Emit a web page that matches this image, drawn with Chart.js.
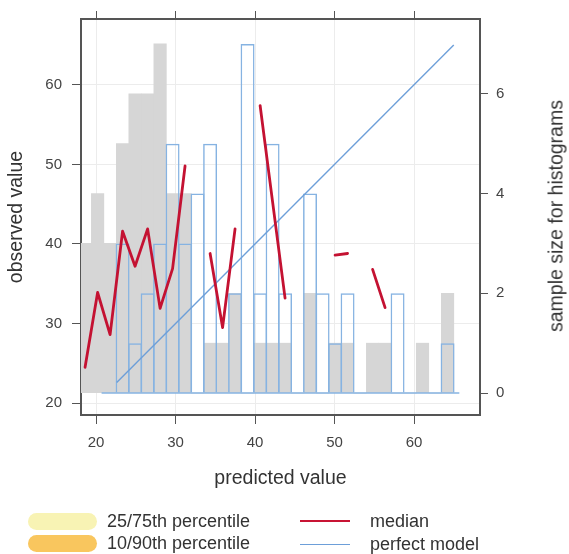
<!DOCTYPE html>
<html>
<head>
<meta charset="utf-8">
<script src="https://cdn.jsdelivr.net/npm/chart.js@4.4.1/dist/chart.umd.min.js"></script>
<style>
  html, body { margin: 0; padding: 0; background: #fff; }
  #wrap { position: relative; width: 569px; height: 554px; font-family: "Liberation Sans", Arial, sans-serif; color: #333; overflow: hidden; }
  #chart { position: absolute; left: 0; top: 0; }
  .rtitle { position: absolute; left: 556px; top: 216px; transform: translate(-50%, -50%) rotate(-90deg); white-space: nowrap; font-size: 19.5px; }
  .key { position: absolute; display: flex; align-items: center; height: 20px; font-size: 18px; line-height: 18px; white-space: nowrap; }
  .pill { width: 69px; height: 17px; border-radius: 9px; margin-right: 10px; }
  .stroke { width: 50px; margin-right: 20px; }
</style>
</head>
<body>
<div id="wrap">
  <canvas id="chart" width="569" height="554"></canvas>
  <div class="rtitle">sample size for histograms</div>
  <div class="key" style="left:28px; top:511px"><span class="pill" style="background:#f8f3b4"></span>25/75th percentile</div>
  <div class="key" style="left:28px; top:533px"><span class="pill" style="background:#f9c65e"></span>10/90th percentile</div>
  <div class="key" style="left:300px; top:511px"><span class="stroke" style="border-top:2.5px solid #c81434"></span>median</div>
  <div class="key" style="left:300px; top:534px"><span class="stroke" style="border-top:1.5px solid #6d9fd9"></span>perfect model</div>
</div>
<script>
// histogram bin centres (predicted value)
const binCenters = [18.62, 20.20, 21.77, 23.34, 24.91, 26.49, 28.06, 29.63, 31.20, 32.77,
                    34.35, 35.92, 37.49, 39.06, 40.64, 42.21, 43.78, 45.35, 46.92, 48.50,
                    50.07, 51.64, 53.21, 54.79, 56.36, 57.93, 59.50, 61.07, 62.65, 64.22];
// sample sizes: predicted (grey) and observed (blue outline)
const predCounts = [3, 4, 3, 5, 6, 6, 7, 4, 4, 0, 1, 1, 2, 0, 1, 1, 1, 0, 2, 0, 1, 1, 0, 1, 1, 0, 0, 1, 0, 2];
const obsCounts  = [0, 0, 0, 3, 1, 2, 3, 5, 3, 4, 5, 0, 2, 7, 2, 5, 2, 0, 4, 2, 1, 2, 0, 0, 0, 2, 0, 0, 0, 1];
// median observed value per bin (null = no line)
const medians = [24.5, 33.9, 28.6, 41.6, 37.2, 41.9, 31.9, 36.9, 49.8, null,
                 38.8, 29.5, 41.9, null, 57.4, 45.3, 33.2, null, null, null,
                 38.6, 38.8, null, 36.8, 32.0, null, null, null, null, null];
const perfectX = [22.6, 65.0];
const obsBaseX = [20.7, 65.7];

const xTicks = [20, 30, 40, 50, 60];
const yTicks = [20, 30, 40, 50, 60];
const countTicks = [0, 2, 4, 6];

const FONT = '"Liberation Sans", Arial, sans-serif';
const FRAME = '#555555';
const GRID = '#ececec';

const setTicks = vals => scale => { scale.ticks = vals.map(v => ({ value: v })); };

new Chart(document.getElementById('chart'), {
  type: 'line',
  data: {
    datasets: [
      {
        type: 'bar',
        label: 'predicted',
        data: binCenters.map((x, i) => ({ x, y: predCounts[i] })),
        yAxisID: 'y2',
        backgroundColor: '#d6d6d6',
        borderWidth: 0,
        barPercentage: 1,
        categoryPercentage: 1,
        grouped: false,
        order: 5
      },
      {
        type: 'bar',
        label: 'observed',
        data: binCenters.map((x, i) => ({ x, y: obsCounts[i] })),
        yAxisID: 'y2',
        backgroundColor: 'rgba(0,0,0,0)',
        borderColor: '#86b3e2',
        borderWidth: 1.5,
        borderSkipped: 'start',
        barPercentage: 1.12,
        categoryPercentage: 1,
        grouped: false,
        order: 4
      },
      {
        label: 'observed base',
        data: obsBaseX.map(x => ({ x, y: 0 })),
        yAxisID: 'y2',
        borderColor: '#86b3e2',
        borderWidth: 1.5,
        pointRadius: 0,
        order: 3
      },
      {
        label: 'perfect model',
        data: perfectX.map(x => ({ x, y: x })),
        yAxisID: 'y',
        borderColor: '#6d9fd9',
        borderWidth: 1.4,
        pointRadius: 0,
        order: 2
      },
      {
        label: 'median',
        data: binCenters.map((x, i) => ({ x, y: medians[i] })),
        yAxisID: 'y',
        borderColor: '#c41232',
        borderWidth: 2.8,
        pointRadius: 0,
        spanGaps: false,
        borderJoinStyle: 'round',
        borderCapStyle: 'round',
        order: 1
      }
    ]
  },
  options: {
    responsive: false,
    animation: false,
    layout: { padding: 0 },
    plugins: { legend: { display: false }, tooltip: { enabled: false } },
    scales: {
      x: {
        type: 'linear', position: 'bottom', min: 18.11, max: 68.30, offset: false,
        afterBuildTicks: setTicks(xTicks),
        afterFit: s => { s.height = 139; },
        grid: { color: GRID, tickColor: FRAME, tickLength: 9, offset: false },
        border: { color: FRAME, width: 2 },
        ticks: { color: '#444', padding: 10, font: { family: FONT, size: 15 } },
        title: { display: true, text: 'predicted value', color: '#333', padding: { bottom: 64 }, font: { family: FONT, size: 19.5 } }
      },
      x2: {
        type: 'linear', position: 'top', min: 18.11, max: 68.30, offset: false,
        afterBuildTicks: setTicks(xTicks),
        afterFit: s => { s.height = 18; },
        grid: { drawOnChartArea: false, tickColor: FRAME, tickLength: 8 },
        border: { color: FRAME, width: 2 },
        ticks: { display: false }
      },
      y: {
        type: 'linear', position: 'left', min: 18.5, max: 68.28,
        afterBuildTicks: setTicks(yTicks),
        afterFit: s => { s.width = 81; },
        grid: { color: GRID, tickColor: FRAME, tickLength: 9 },
        border: { color: FRAME, width: 2 },
        ticks: { color: '#444', padding: 10, font: { family: FONT, size: 15 } },
        title: { display: true, text: 'observed value', color: '#333', padding: { top: 5 }, font: { family: FONT, size: 19.5 } }
      },
      y2: {
        type: 'linear', position: 'right', min: -0.44, max: 7.5,
        afterBuildTicks: setTicks(countTicks),
        afterFit: s => { s.width = 89; },
        grid: { drawOnChartArea: false, tickColor: FRAME, tickLength: 8 },
        border: { color: FRAME, width: 2 },
        ticks: { color: '#444', padding: 8, font: { family: FONT, size: 15 } }
      }
    }
  }
});
</script>
</body>
</html>
